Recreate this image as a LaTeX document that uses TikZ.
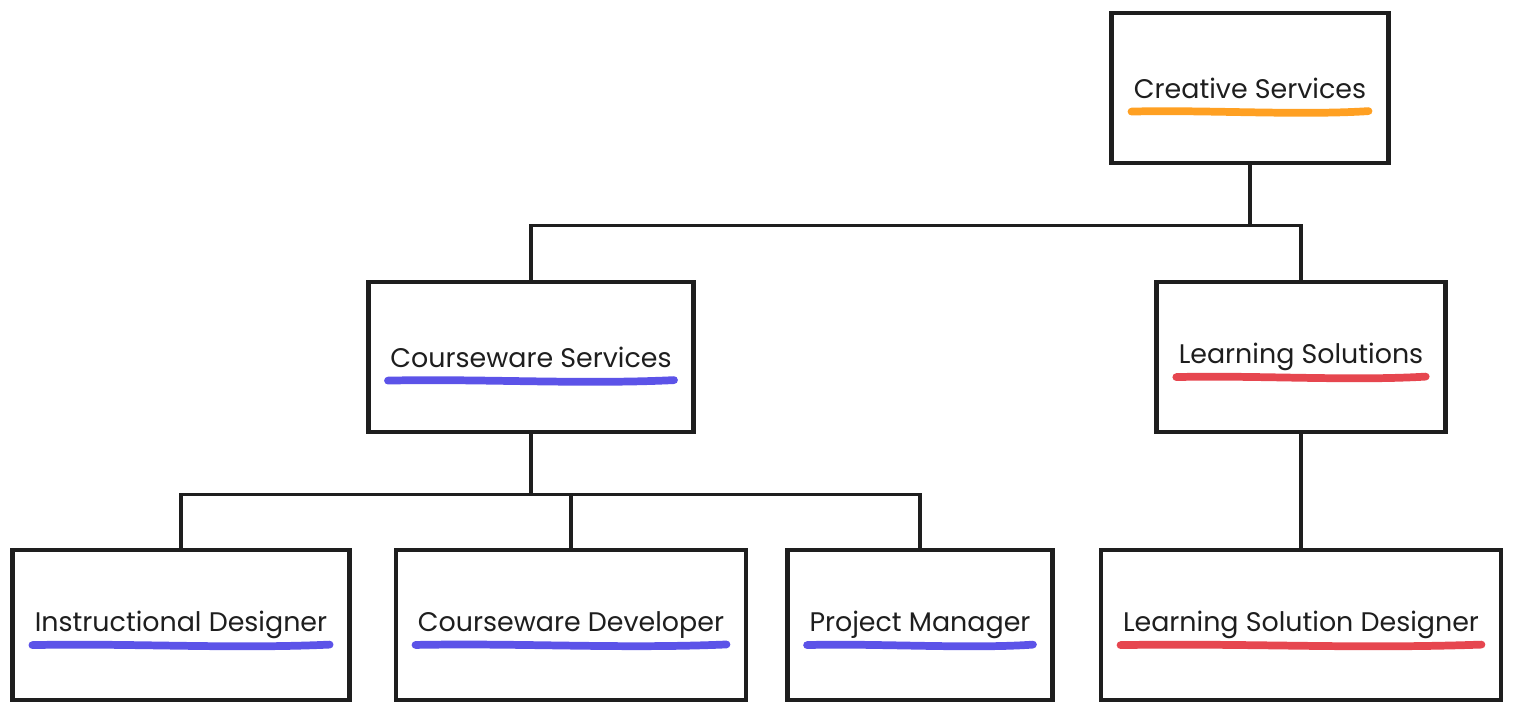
\documentclass[tikz,border=0pt]{standalone}
\usepackage{fontspec}
\setmainfont{Poppins}
\usepackage{xcolor}
\definecolor{uorange}{RGB}{255,150,10}
\definecolor{ublue}{RGB}{75,65,230}
\definecolor{ured}{RGB}{228,50,60}
\definecolor{ink}{RGB}{30,30,30}
\usetikzlibrary{positioning, calc}
\tikzstyle{Box} = [
draw=ink,
line width=2.8pt,
fill=white,
text=ink,
font=\fontsize{15.3}{18}\selectfont,
minimum height=3cm,
inner xsep=0.44cm]
\tikzstyle{Line} = [
line width=2pt,
ink]
\tikzstyle{Under} = [
line width=4.4pt,
line cap=round,
opacity=0.9]
\newcommand{\underl}[2]{%
\draw[Under, #2] ($(#1.base west)+(0.44cm,-0.27cm)$)
  .. controls ($(#1.base)+(-1cm,-0.23cm)$) and ($(#1.base)+(1cm,-0.35cm)$) ..
  ($(#1.base east)+(-0.44cm,-0.26cm)$);}

\begin{document}
\begin{tikzpicture}[x=0.02cm, y=-0.02cm]
    \useasboundingbox (0,0) rectangle (1536,720);
    \node[Box] (1) at (1250,88) {Creative Services};
    \node[Box] (2) at (531,357) {Courseware Services};
    \node[Box] (3) at (1301,357) {Learning Solutions};
    \node[Box] (4) at (181,625) {Instructional Designer};
    \node[Box] (5) at (571,625) {Courseware Developer};
    \node[Box] (6) at (920,625) {Project Manager};
    \node[Box] (7) at (1301,625) {Learning Solution Designer};

    \draw[Line] (1.south) -- ++(0,60) -| (2.north);
    \draw[Line] (1.south) -- ++(0,60) -| (3.north);
    \draw[Line] (2.south) -- ++(0,60) -| (4.north);
    \draw[Line] (2.south) -- ++(0,60) -| (5.north);
    \draw[Line] (2.south) -- ++(0,60) -| (6.north);
    \draw[Line] (3.south) -- (7.north);

    \underl{1}{uorange}
    \underl{2}{ublue}
    \underl{3}{ured}
    \underl{4}{ublue}
    \underl{5}{ublue}
    \underl{6}{ublue}
    \underl{7}{ured}
\end{tikzpicture}
\end{document}
